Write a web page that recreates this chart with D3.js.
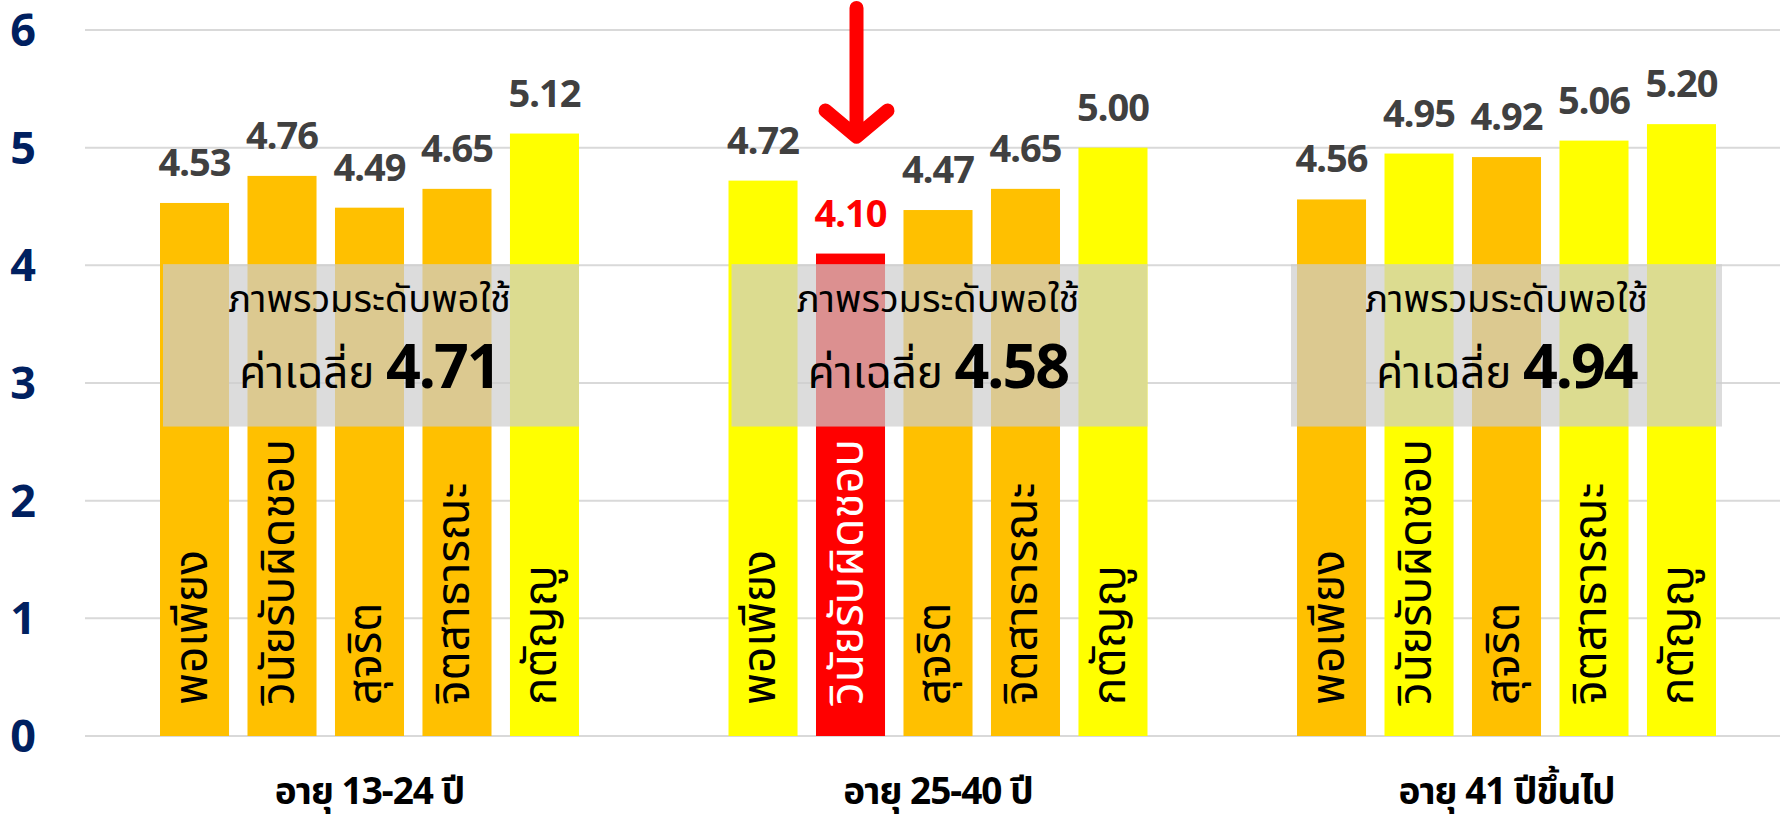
<!DOCTYPE html>
<html>
<head>
<meta charset="utf-8" />
<script src="https://cdn.jsdelivr.net/npm/d3@7"></script>
<style>
  body { margin: 0; background: #fff; }
  svg { display: block; font-family: "Noto Sans", "Noto Sans Thai", sans-serif; }
</style>
</head>
<body>
<div id="chart"></div>
<script>
// age groups and traits
var groups = ["อายุ 13-24 ปี", "อายุ 25-40 ปี", "อายุ 41 ปีขึ้นไป"];
var traits = ["พอเพียง", "วินัยรับผิดชอบ", "สุจริต", "จิตสาธารณะ", "กตัญญู"];

// scores per group
var age13to24 = [4.53, 4.76, 4.49, 4.65, 5.12];
var age25to40 = [4.72, 4.10, 4.47, 4.65, 5.00];
var age41up   = [4.56, 4.95, 4.92, 5.06, 5.20];

// how each bar is flagged in the source (mid / high / lowest)
var level13to24 = ["mid", "mid", "mid", "mid", "high"];
var level25to40 = ["high", "lowest", "mid", "mid", "high"];
var level41up   = ["mid", "high", "mid", "high", "high"];

var averages = [4.71, 4.58, 4.94];
var yTicks = [0, 1, 2, 3, 4, 5, 6];

var overallText = "ภาพรวมระดับพอใช้";
var avgText = "ค่าเฉลี่ย";

var series = [age13to24, age25to40, age41up];
var levels = [level13to24, level25to40, level41up];

var width = 1780, height = 814;

var color = d3.scaleOrdinal()
  .domain(["mid", "high", "lowest"])
  .range(["#FFC000", "#FFFF00", "#FF0000"]);

var x0 = d3.scaleBand()
  .domain(groups)
  .range([160, 1716])
  .paddingInner(0.263);

var y = d3.scaleLinear().domain([0, 6]).range([736, 30]);

var svg = d3.select('#chart').append('svg')
  .attr('width', width)
  .attr('height', height);

// gridlines
svg.append('g').selectAll('line')
  .data(yTicks)
  .enter().append('line')
  .attr('x1', 85).attr('x2', width)
  .attr('y1', function(d) { return y(d); })
  .attr('y2', function(d) { return y(d); })
  .attr('stroke', '#d9d9d9')
  .attr('stroke-width', 2);

// y labels
svg.append('g').selectAll('text')
  .data(yTicks)
  .enter().append('text')
  .attr('x', 23)
  .attr('y', function(d) { return y(d) + 16; })
  .attr('text-anchor', 'middle')
  .attr('font-size', 45)
  .attr('font-weight', 'bold')
  .attr('fill', '#002060')
  .text(function(d) { return d; });

groups.forEach(function(g, gi) {
  var gx = x0(g);
  var x = d3.scaleBand()
    .domain(traits)
    .range([gx, gx + x0.bandwidth()])
    .paddingInner(0.211);

  var rows = traits.map(function(t, i) {
    return { trait: t, value: series[gi][i], level: levels[gi][i] };
  });

  var grp = svg.append('g');

  grp.selectAll('rect.bar')
    .data(rows)
    .enter().append('rect')
    .attr('class', 'bar')
    .attr('x', function(d) { return x(d.trait); })
    .attr('width', x.bandwidth())
    .attr('y', function(d) { return y(d.value); })
    .attr('height', function(d) { return y(0) - y(d.value); })
    .attr('fill', function(d) { return color(d.level); });

  // value labels
  grp.selectAll('text.val')
    .data(rows)
    .enter().append('text')
    .attr('class', 'val')
    .attr('x', function(d) { return x(d.trait) + x.bandwidth() / 2; })
    .attr('y', function(d) { return y(d.value) - 27; })
    .attr('text-anchor', 'middle')
    .attr('font-size', 38)
    .attr('font-weight', 'bold')
    .attr('letter-spacing', -1)
    .attr('fill', function(d) { return d.level == 'lowest' ? '#FF0000' : '#404040'; })
    .text(function(d) { return d.value.toFixed(2); });

  // rotated trait names
  grp.selectAll('text.trait')
    .data(rows)
    .enter().append('text')
    .attr('class', 'trait')
    .attr('transform', function(d) {
      return 'translate(' + (x(d.trait) + x.bandwidth() / 2 + 12) + ',705) rotate(-90)';
    })
    .attr('font-size', 46)
    .attr('fill', function(d) { return d.level == 'lowest' ? '#fff' : '#000'; })
    .text(function(d) { return d.trait; });

  // translucent summary box
  var cx = gx + x0.bandwidth() / 2;
  var pad = gi == 2 ? -6 : 3;
  grp.append('rect')
    .attr('x', gx + pad)
    .attr('width', x0.bandwidth() - (gi == 2 ? 2 * pad : pad))
    .attr('y', y(4.01))
    .attr('height', y(2.63) - y(4.01))
    .attr('fill', 'rgb(205,205,205)')
    .attr('fill-opacity', 0.7);

  grp.append('text')
    .attr('x', cx)
    .attr('y', y(4.01) + 48)
    .attr('text-anchor', 'middle')
    .attr('font-size', 38)
    .attr('fill', '#000')
    .text(overallText);

  var line2 = grp.append('text')
    .attr('x', cx)
    .attr('y', y(4.01) + 124)
    .attr('text-anchor', 'middle')
    .attr('fill', '#000');
  line2.append('tspan').attr('font-size', 44).text(avgText + ' ');
  line2.append('tspan').attr('font-size', 61).attr('font-weight', 'bold')
    .attr('letter-spacing', -2)
    .text(averages[gi].toFixed(2));

  // group name under the bars
  grp.append('text')
    .attr('x', cx)
    .attr('y', 804)
    .attr('text-anchor', 'middle')
    .attr('font-size', 37)
    .attr('font-weight', 'bold')
    .attr('letter-spacing', -1)
    .attr('fill', '#000')
    .text(g);

  // red arrow pointing at the weakest bar
  rows.forEach(function(d) {
    if (d.level != 'lowest') return;
    var ax = x(d.trait) + x.bandwidth() / 2 + 6;
    var tip = y(d.value) - 117;
    grp.append('path')
      .attr('d', 'M' + ax + ',8 L' + ax + ',' + tip +
        ' M' + (ax - 31) + ',' + (tip - 26) + ' L' + ax + ',' + tip + ' L' + (ax + 31) + ',' + (tip - 26))
      .attr('fill', 'none')
      .attr('stroke', '#FF0000')
      .attr('stroke-width', 14)
      .attr('stroke-linecap', 'round')
      .attr('stroke-linejoin', 'round');
  });
});
</script>
</body>
</html>
